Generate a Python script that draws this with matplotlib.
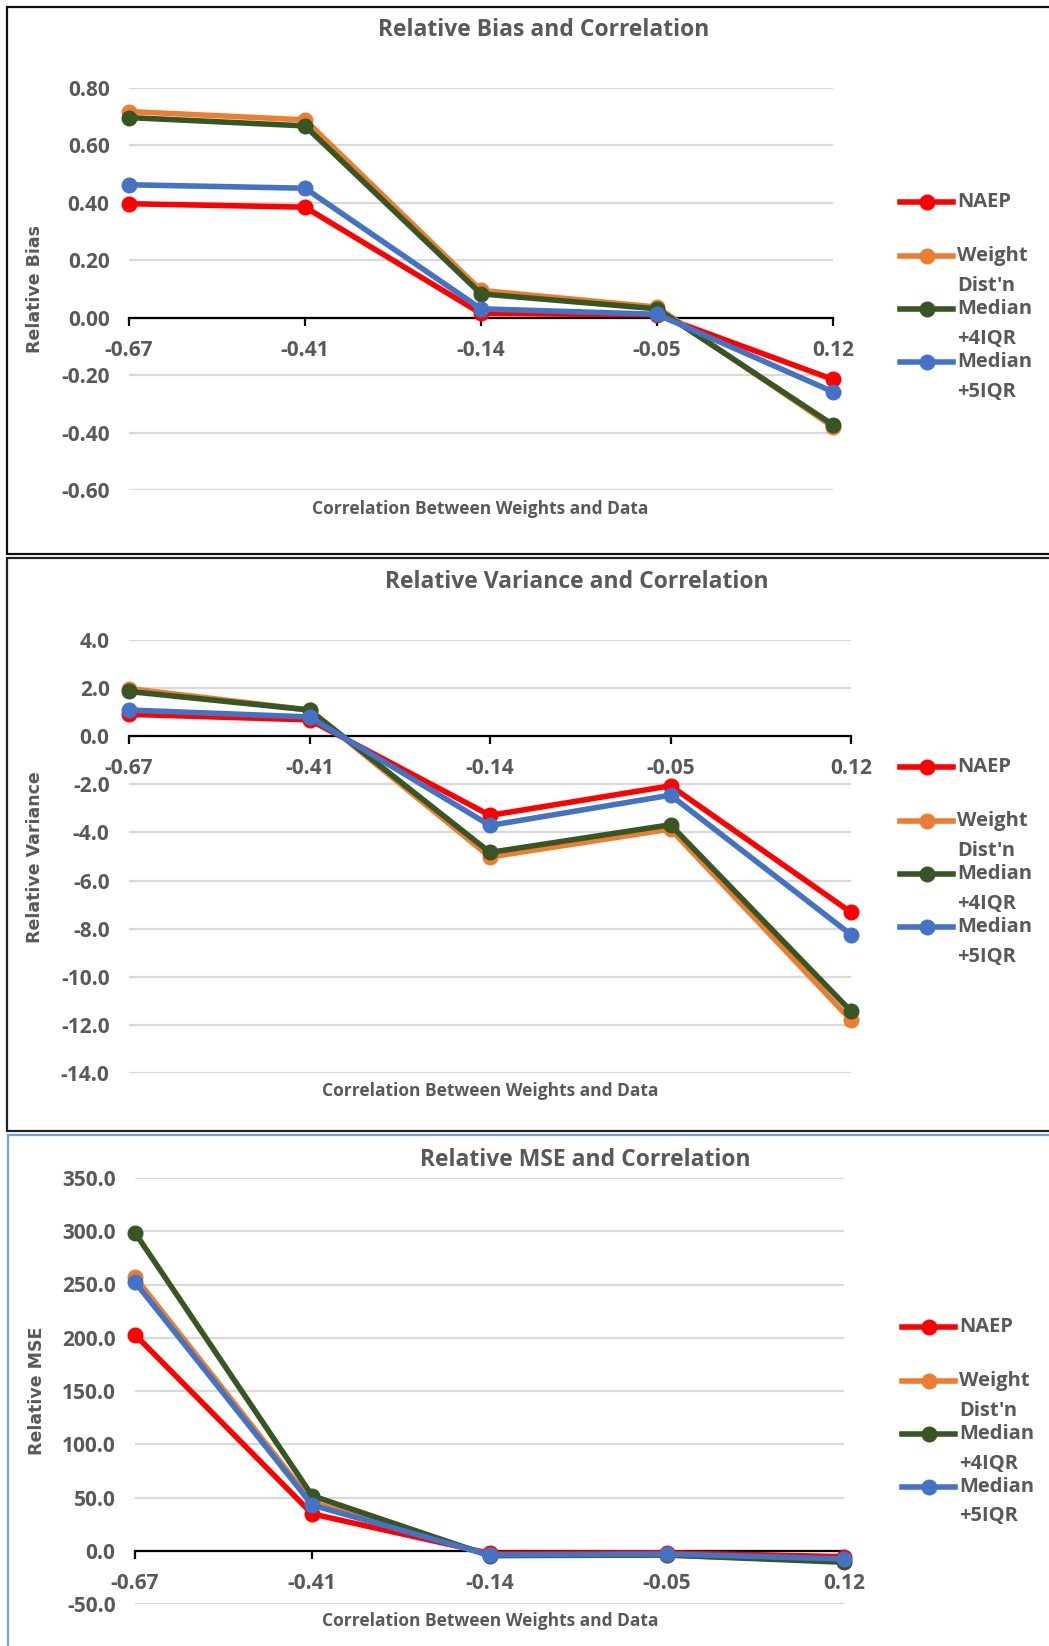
import numpy as np
import matplotlib
matplotlib.use("Agg")
import matplotlib.pyplot as plt
from matplotlib.lines import Line2D
from matplotlib.ticker import FormatStrFormatter

plt.rcParams['axes.unicode_minus'] = False

# correlation levels on the x axis
cats = ['-0.67', '-0.41', '-0.14', '-0.05', '0.12']
series_names = ['NAEP', "Weight\nDist'n", 'Median\n+4IQR', 'Median\n+5IQR']

# relative bias
bias_naep = [0.397, 0.385, 0.015, 0.010, -0.215]
bias_weight = [0.718, 0.689, 0.095, 0.037, -0.380]
bias_med4 = [0.697, 0.668, 0.083, 0.031, -0.373]
bias_med5 = [0.463, 0.451, 0.031, 0.012, -0.258]

# relative variance
var_naep = [0.91, 0.68, -3.29, -2.06, -7.32]
var_weight = [1.98, 1.09, -5.02, -3.86, -11.80]
var_med4 = [1.86, 1.09, -4.83, -3.68, -11.43]
var_med5 = [1.09, 0.80, -3.71, -2.45, -8.25]

# relative MSE
mse_naep = [202.9, 34.6, -2.5, -1.9, -5.6]
mse_weight = [257.0, 45.4, -4.0, -4.0, -10.0]
mse_med4 = [298.6, 51.6, -4.6, -4.0, -10.8]
mse_med5 = [252.3, 42.9, -4.0, -3.1, -7.7]

colors = ['#FF0000', '#ED7D31', '#375623', '#4472C4']
GRAY = '#595959'
W, H = 1049, 1646
LW, MS = 4.0, 10.5

fig = plt.figure(figsize=(W / 100, H / 100), dpi=100)
fig.patch.set_facecolor('white')


def box(l, t, r, b):
    return [l / W, 1 - b / H, (r - l) / W, (b - t) / H]


# pixel-space overlay for frames and legends
over = fig.add_axes([0, 0, 1, 1], zorder=5)
over.set_xlim(0, W)
over.set_ylim(H, 0)
over.axis('off')
over.patch.set_visible(False)

# panel frames
over.plot([W + 5, 7, 7, W + 5], [7, 7, 553.5, 553.5], color='#111111', lw=1.6, solid_joinstyle='miter')
over.plot([W + 5, 7, 7, W + 5], [557.5, 557.5, 1131, 1131], color='#222222', lw=1.6, solid_joinstyle='miter')
over.plot([W + 5, 7.5, 7.5], [1135, 1135, H + 5], color='#6FA3DA', lw=1.6, solid_joinstyle='miter')

panels = [
    dict(rect=(129, 88, 833, 490), ylim=(-0.6, 0.8), step=0.2, fmt='%.2f',
         data=[bias_naep, bias_weight, bias_med4, bias_med5],
         title='Relative Bias and Correlation', title_xy=(544, 30),
         ylabel='Relative Bias', ylabel_xy=(35, 289), xlabel_xy=(480, 509),
         leg_x=900, leg_y=202),
    dict(rect=(129, 640, 851, 1073), ylim=(-14, 4), step=2.0, fmt='%.1f',
         data=[var_naep, var_weight, var_med4, var_med5],
         title='Relative Variance and Correlation', title_xy=(577, 582),
         ylabel='Relative Variance', ylabel_xy=(35, 857), xlabel_xy=(490, 1091),
         leg_x=900, leg_y=767),
    dict(rect=(135, 1178, 844, 1604), ylim=(-50, 350), step=50.0, fmt='%.1f',
         data=[mse_naep, mse_weight, mse_med4, mse_med5],
         title='Relative MSE and Correlation', title_xy=(585, 1160),
         ylabel='Relative MSE', ylabel_xy=(37, 1391), xlabel_xy=(490, 1621),
         leg_x=902, leg_y=1327),
]

x = np.arange(len(cats))

for p in panels:
    ax = fig.add_axes(box(*p['rect']))
    ax.set_xlim(0, len(cats) - 1)
    ax.set_ylim(*p['ylim'])
    ax.set_yticks(np.arange(p['ylim'][0], p['ylim'][1] + p['step'] / 2, p['step']))
    ax.yaxis.set_major_formatter(FormatStrFormatter(p['fmt']))
    ax.grid(axis='y', color='#D9D9D9', lw=1.6)
    ax.set_axisbelow(True)
    for s in ['top', 'right', 'left']:
        ax.spines[s].set_visible(False)
    ax.spines['bottom'].set_position(('data', 0))
    ax.spines['bottom'].set_linewidth(1.6)
    ax.spines['bottom'].set_color('black')
    ax.spines['bottom'].set_zorder(1.5)
    ax.set_xticks(x)
    ax.set_xticklabels(cats)
    ax.tick_params(axis='x', direction='out', length=6, width=1.6, color='black', pad=10)
    ax.tick_params(axis='y', length=0, pad=14)
    for lab in ax.get_xticklabels() + ax.get_yticklabels():
        lab.set_fontfamily('Open Sans')
        lab.set_fontweight('bold')
        lab.set_fontsize(15)
        lab.set_color(GRAY)

    for vals, c in zip(p['data'], colors):
        ax.plot(x, vals, color=c, lw=LW, marker='o', ms=MS, clip_on=False, zorder=3)

    over.text(*p['title_xy'], p['title'], ha='center', va='center',
              fontfamily='Open Sans', fontweight='bold', fontsize=16.5, color=GRAY)
    over.text(*p['ylabel_xy'], p['ylabel'], ha='center', va='center', rotation=90,
              fontfamily='DejaVu Sans', fontweight='bold', fontsize=12.5, color=GRAY)
    over.text(*p['xlabel_xy'], 'Correlation Between Weights and Data', ha='center', va='center',
              fontfamily='Open Sans', fontweight='bold', fontsize=12.5, color=GRAY)

    # legend entries drawn in pixel space
    for i, (name, c) in enumerate(zip(series_names, colors)):
        yy = p['leg_y'] + [0, 54, 107, 160][i]
        lx = p['leg_x']
        over.add_line(Line2D([lx, lx + 53], [yy, yy], color=c, lw=LW))
        over.plot([lx + 26.5], [yy], marker='o', ms=MS, color=c)
        for j, part in enumerate(name.split('\n')):
            over.text(lx + 57, yy + j * 29.5, part, ha='left', va='center',
                      fontfamily='Open Sans', fontweight='bold', fontsize=14.5, color=GRAY)

fig.savefig('out.png', dpi=100)
